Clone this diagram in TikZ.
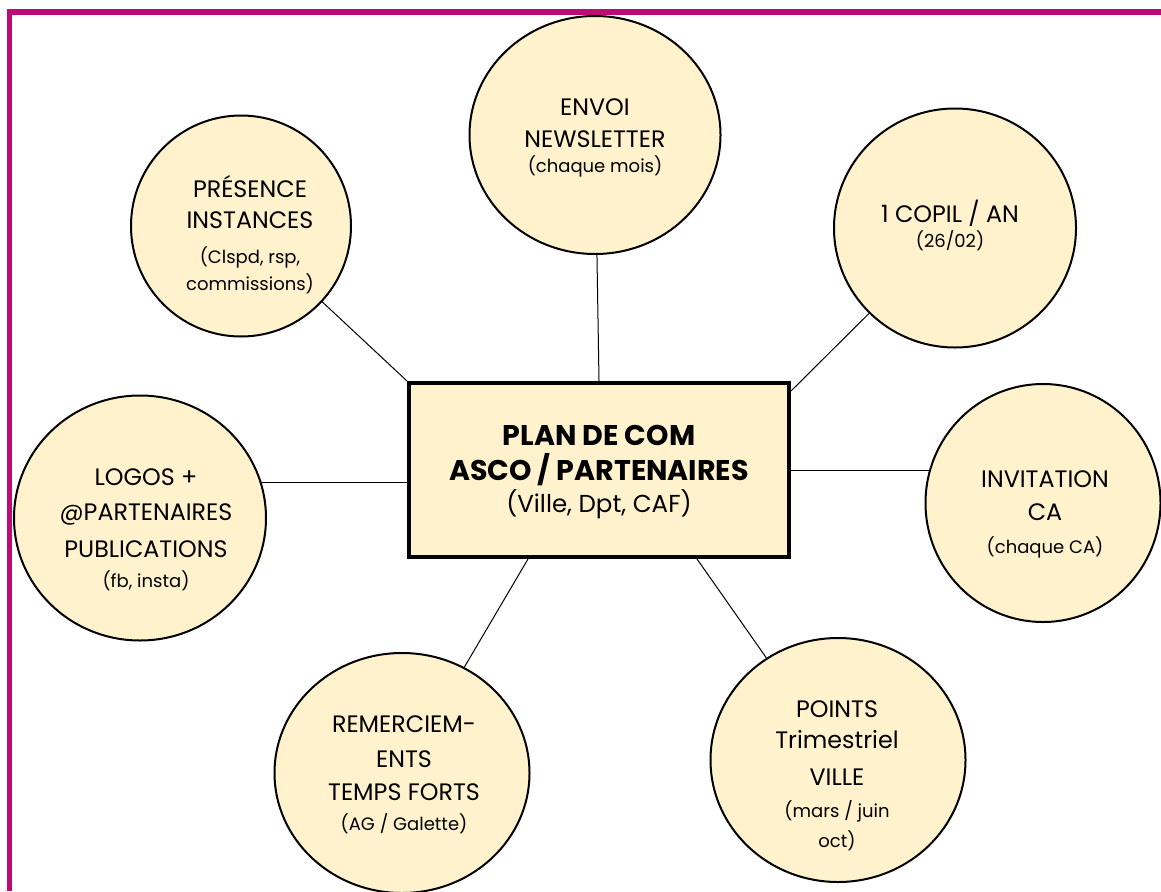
\documentclass[tikz,border=0pt]{standalone}
\usepackage{fontspec}
\setmainfont{Poppins}
\usetikzlibrary{shapes.geometric,backgrounds}
\definecolor{mag}{RGB}{186,12,116}
\definecolor{cream}{RGB}{255,242,204}
\newcommand\bigt{\fontsize{23.8}{30}\selectfont}
\newcommand\smt{\fontsize{18}{26}\selectfont}
\begin{document}
\begin{tikzpicture}[x=1pt,y=-1pt,
  bubble/.style={ellipse,draw=black,line width=2pt,fill=cream,inner sep=0pt},
  bt/.style={anchor=base,inner sep=0pt,font=\bigt},
  st/.style={anchor=base,inner sep=0pt,font=\smt},
  hb/.style={anchor=base,inner sep=0pt,font=\fontsize{28.5}{34}\selectfont\bfseries},
  hr/.style={anchor=base,inner sep=0pt,font=\fontsize{24.5}{34}\selectfont},
  link/.style={draw=black,line width=1pt},
  centerbox/.style={rectangle,draw=black,line width=4pt,fill=cream,minimum width=380pt,minimum height=174pt,inner sep=0pt}]
\useasboundingbox (0,0) rectangle (1161,891);
% frame
\draw[mag,line width=5.5pt,line join=miter] (9.5,891) -- (9.5,12) -- (1161,12);
% bubbles
\node[bubble,minimum width=220pt,minimum height=221pt] (pres) at (241,226) {};
\node[bubble,minimum width=251pt,minimum height=238pt] (envoi) at (595,135) {};
\node[bubble,minimum width=242pt,minimum height=239pt] (copil) at (955,228) {};
\node[bubble,minimum width=235pt,minimum height=238pt] (invit) at (1043,503) {};
\node[bubble,minimum width=255pt,minimum height=244pt] (points) at (838,760) {};
\node[bubble,minimum width=255pt,minimum height=240pt] (remer) at (402,773) {};
\node[bubble,minimum width=252pt,minimum height=245pt] (logos) at (140,518) {};
\node[centerbox] (box) at (599,470) {};
% connectors
\begin{pgfonlayer}{background}
\fill[white] (0,0) rectangle (1161,891);
\draw[link] (pres.center) -- (box.north west);
\draw[link] (envoi.center) -- (box.north);
\draw[link] (copil.center) -- ([yshift=-10pt]box.north east);
\draw[link] (box.center) -- (box.center -| invit.center);
\draw[link] ([yshift=-12pt]box.center) -- ([yshift=-12pt]box.center -| logos.center);
\draw[link] ([xshift=98pt]box.south) -- (points);
\draw[link] ([xshift=-71pt]box.south) -- (remer);
\end{pgfonlayer}
% texts
\node[hb] (box1) at (599,445) {PLAN DE COM};
\node[hb] (box2) at (599,480) {ASCO / PARTENAIRES};
\node[hr] (box3) at (599,512) {(Ville, Dpt, CAF)};
\node[bt] (envoi1) at (595,115) {ENVOI};
\node[bt] (envoi2) at (595,147) {NEWSLETTER};
\node[st] (envoi3) at (595,172) {(chaque mois)};
\node[bt] (pres1) at (250,197) {PRÉSENCE};
\node[bt] (pres2) at (250,228) {INSTANCES};
\node[st] (pres3) at (250,263) {(Clspd, rsp,};
\node[st] (pres4) at (250,290) {commissions)};
\node[bt] (copil1) at (950,222) {1 COPIL / AN};
\node[st] (copil2) at (950,247) {(26/02)};
\node[bt] (invit1) at (1045,487) {INVITATION};
\node[bt] (invit2) at (1045,520) {CA};
\node[st] (invit3) at (1045,553) {(chaque CA)};
\node[bt] (logos1) at (146,485) {LOGOS +};
\node[bt] (logos2) at (146,520) {@PARTENAIRES};
\node[bt] (logos3) at (146,557) {PUBLICATIONS};
\node[st] (logos4) at (146,587) {(fb, insta)};
\node[bt] (points1) at (837,717) {POINTS};
\node[bt] (points2) at (837,748) {Trimestriel};
\node[bt] (points3) at (837,785) {VILLE};
\node[st] (points4) at (837,817) {(mars / juin};
\node[st] (points5) at (837,847) {oct)};
\node[bt] (remer1) at (404,732) {REMERCIEM-};
\node[bt] (remer2) at (404,767) {ENTS};
\node[bt] (remer3) at (404,800) {TEMPS FORTS};
\node[st] (remer4) at (404,830) {(AG / Galette)};
\end{tikzpicture}
\end{document}
